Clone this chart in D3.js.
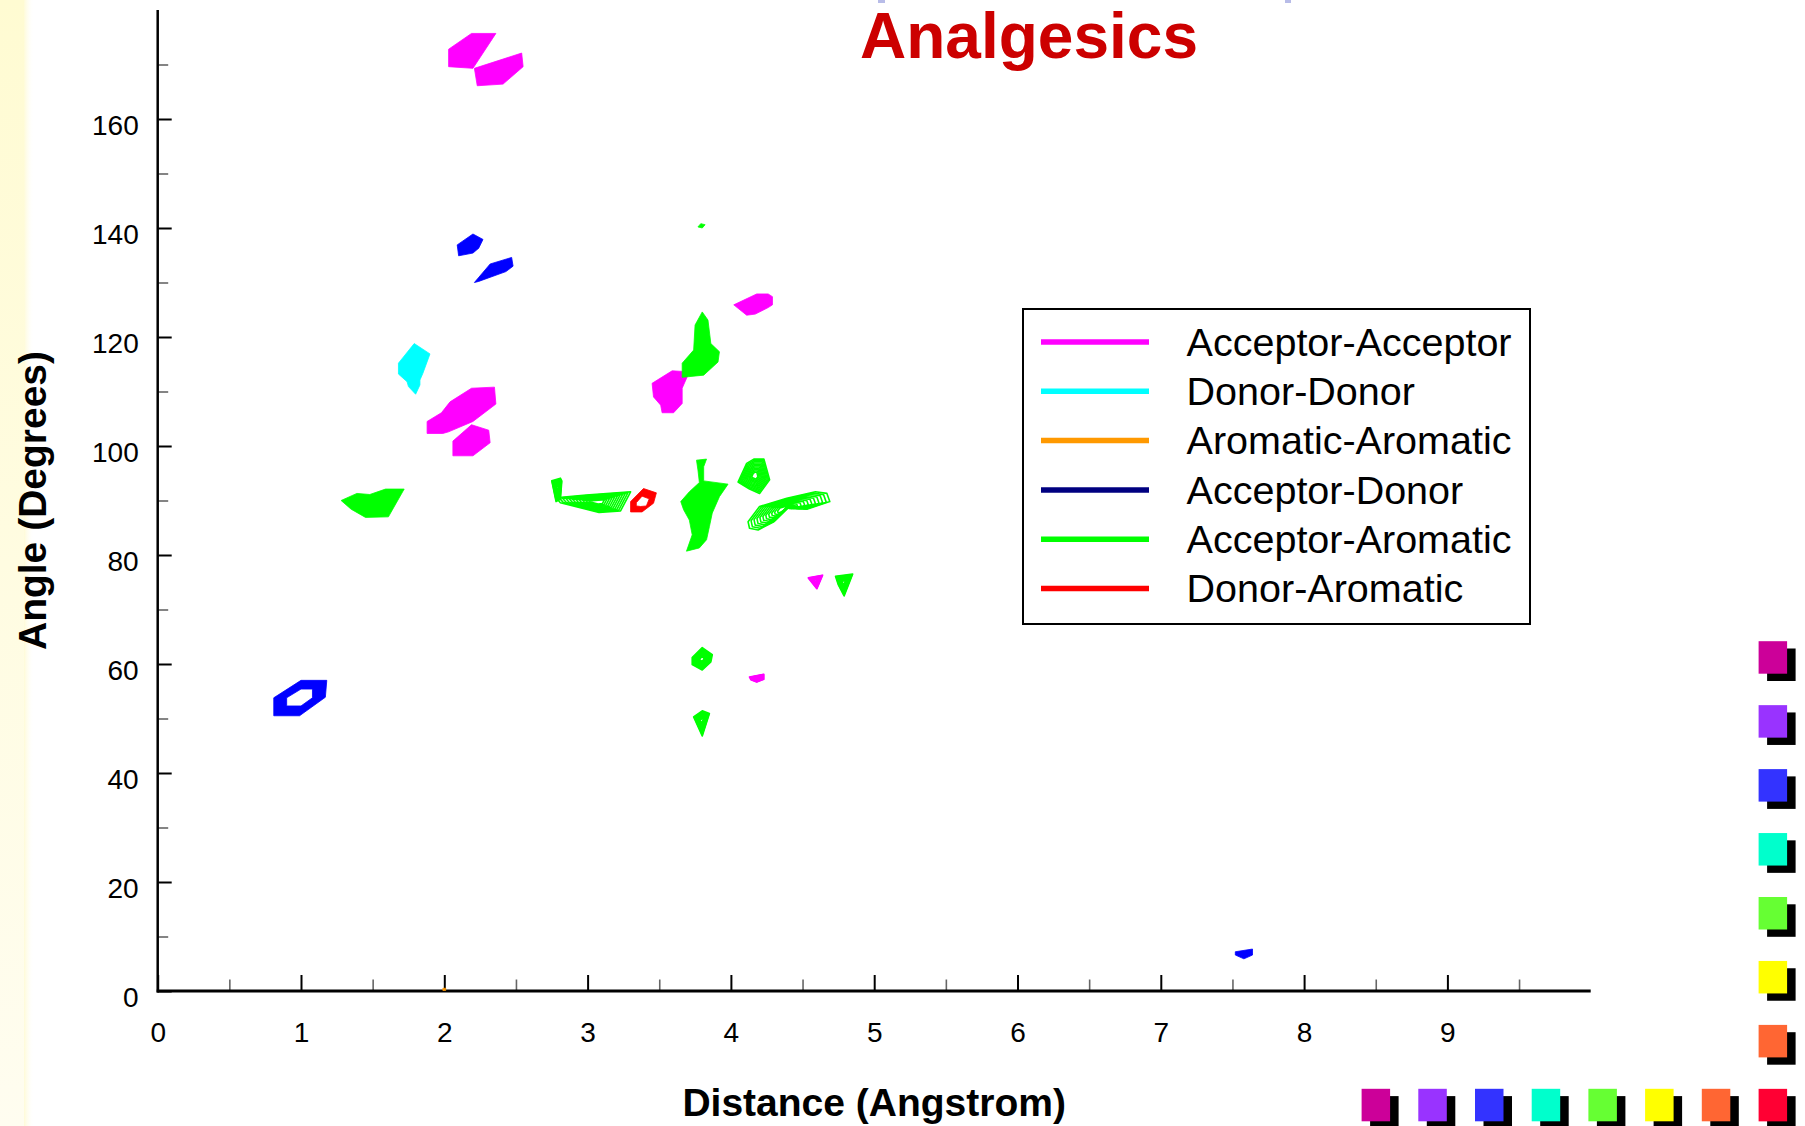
<!DOCTYPE html>
<html>
<head>
<meta charset="utf-8">
<title>Analgesics</title>
<script src="https://cdn.jsdelivr.net/npm/d3@7"></script>
<style>
  body { margin: 0; background: #fff; }
  svg { display: block; font-family: "Liberation Sans", Arial, Helvetica, sans-serif; }
</style>
</head>
<body>
<svg id="chart" width="1805" height="1126"></svg>
<script>
// ---- Series (pharmacophore pair types) ----
const seriesNames = [
  "Acceptor-Acceptor", "Donor-Donor", "Aromatic-Aromatic",
  "Acceptor-Donor", "Acceptor-Aromatic", "Donor-Aromatic"
];
const legendColors = ["#ff00ff", "#00ffff", "#ff9900", "#000080", "#00ff00", "#ff0000"];
const regionColors = ["#ff00ff", "#00ffff", "#ff9900", "#0000ff", "#00ff00", "#ff0000"];

// ---- Axis ticks ----
const distanceTicks = [0, 1, 2, 3, 4, 5, 6, 7, 8, 9];
const distanceMinorTicks = [0.5, 1.5, 2.5, 3.5, 4.5, 5.5, 6.5, 7.5, 8.5, 9.5];
const angleTicks = [0, 20, 40, 60, 80, 100, 120, 140, 160];
const angleMinorTicks = [10, 30, 50, 70, 90, 110, 130, 150, 170];

// ---- Contour regions: each region is a list of rings of [distance (Å), angle (deg)] ----
const acceptorAcceptorRegions = [
  [[[2.03,172.8],[2.19,175.7],[2.36,175.7],[2.20,169.3],[2.03,169.6]]],
  [[[2.21,169.3],[2.54,172.1],[2.55,169.6],[2.41,166.4],[2.23,166.1]]],
  [[[1.88,104.5],[1.98,106.1],[2.04,108.1],[2.19,110.6],[2.35,110.8],[2.36,107.7],[2.20,104.5],[2.03,102.6],[1.99,102.3],[1.88,102.3]]],
  [[[2.06,100.9],[2.19,103.9],[2.31,102.9],[2.32,100.6],[2.20,98.2],[2.06,98.2]]],
  [[[4.02,125.9],[4.18,127.9],[4.26,127.9],[4.29,127.4],[4.29,125.9],[4.26,125.4],[4.17,124.2],[4.11,124.0]]],
  [[[3.45,111.5],[3.59,113.8],[3.71,113.6],[3.66,110.6],[3.66,107.8],[3.60,106.1],[3.52,106.1],[3.51,107.5],[3.46,109.0]]],
  [[[4.54,75.8],[4.64,76.3],[4.60,73.8]]],
  [[[4.13,57.6],[4.23,58.1],[4.23,57.2],[4.18,56.7],[4.14,57.1]]]
];
const donorDonorRegions = [
  [[[1.68,115.2],[1.79,118.8],[1.90,116.9],[1.85,113.3],[1.83,112.1],[1.83,111.2],[1.80,109.5],[1.75,110.9],[1.74,111.8],[1.68,113.2]]]
];
const aromaticAromaticRegions = [
  [[[1.99,0.1],[2.01,0.1],[2.01,0.5],[1.99,0.5]]]
];
const acceptorDonorRegions = [
  [[[2.09,136.9],[2.20,138.9],[2.27,137.9],[2.24,136.3],[2.20,135.4],[2.10,134.9]]],
  [[[2.21,130.0],[2.32,133.4],[2.47,134.6],[2.48,133.0],[2.43,132.0],[2.24,130.2]]],
  [[[0.81,53.8],[1.00,57.0],[1.18,57.0],[1.17,53.9],[0.99,50.5],[0.81,50.5]],
   [[0.90,53.8],[1.00,55.4],[1.08,55.4],[1.08,53.8],[1.00,52.3],[0.90,52.3]]],
  [[[7.52,7.2],[7.64,7.7],[7.64,6.6],[7.58,5.9],[7.52,6.6]]]
];
const acceptorAromaticRegions = [
  [[[1.28,90.0],[1.39,91.3],[1.48,91.1],[1.59,92.1],[1.72,92.1],[1.61,87.0],[1.45,86.9],[1.35,88.4]]],
  [[[2.75,93.6],[2.81,94.1],[2.82,93.6],[2.81,90.2],[2.78,89.8]]],
  [[[2.78,90.5],[2.99,91.0],[3.30,91.6],[3.23,88.1],[3.08,87.8],[2.81,89.6]]],
  [[[3.77,140.2],[3.79,140.8],[3.82,140.6],[3.80,140.0]]],
  [[[3.80,124.6],[3.84,123.1],[3.86,118.8],[3.92,117.3],[3.91,115.4],[3.81,113.0],[3.66,112.6],[3.66,115.2],[3.74,117.6],[3.75,122.2]]],
  [[[3.76,97.4],[3.83,97.6],[3.81,96.2],[3.81,93.6],[3.98,93.0],[3.92,90.7],[3.87,87.7],[3.85,85.2],[3.83,82.8],[3.78,81.3],[3.69,80.7],[3.73,83.7],[3.71,86.4],[3.67,88.3],[3.65,89.8],[3.71,91.6],[3.78,93.3],[3.77,95.6]]],
  [[[4.05,93.4],[4.11,96.8],[4.16,97.6],[4.23,97.6],[4.27,93.8],[4.20,91.3],[4.13,92.1]]],
  [[[4.12,86.1],[4.20,88.9],[4.39,90.4],[4.59,91.6],[4.67,91.3],[4.69,89.8],[4.53,88.4],[4.42,89.2],[4.30,86.1],[4.19,84.6],[4.13,84.9]]],
  [[[4.73,76.1],[4.85,76.5],[4.79,72.5],[4.75,74.5]]],
  [[[3.73,61.2],[3.80,63.0],[3.87,61.7],[3.86,60.4],[3.80,58.9],[3.73,59.9]]],
  [[[3.74,50.3],[3.80,51.4],[3.85,50.9],[3.80,46.8]]]
];
const donorAromaticRegions = [
  [[[3.30,89.8],[3.39,92.2],[3.48,91.4],[3.46,89.5],[3.38,87.9],[3.30,87.9]],
   [[3.34,89.6],[3.38,90.8],[3.43,90.3],[3.41,89.0],[3.37,88.9],[3.34,89.0]]]
];
const regionsBySeries = [
  acceptorAcceptorRegions, donorDonorRegions, aromaticAromaticRegions,
  acceptorDonorRegions, acceptorAromaticRegions, donorAromaticRegions
];
// Regions rendered as stacked contour lines rather than solid fills
const lineContourRegions = {
  "Acceptor-Acceptor": [6, 7],
  "Acceptor-Aromatic": [1, 2, 6, 7, 8, 9, 10]
};

// Slide template swatches
const sideSwatchColors = ["#cc0099", "#9933ff", "#3333ff", "#00ffcc", "#66ff33", "#ffff00", "#ff6633", "#ff0033"];
const bottomSwatchColors = ["#cc0099", "#9933ff", "#3333ff", "#00ffcc", "#66ff33", "#ffff00", "#ff6633"];

// ---- Drawing ----
const svg = d3.select("#chart");
const FONT = '"Liberation Sans", Arial, Helvetica, sans-serif';

// pale yellow strip on the left edge
const defs = svg.append("defs");
const grad = defs.append("linearGradient").attr("id", "strip").attr("x1", 0).attr("y1", 0).attr("x2", 0).attr("y2", 1);
grad.append("stop").attr("offset", "0%").attr("stop-color", "#fffbd2");
grad.append("stop").attr("offset", "100%").attr("stop-color", "#fffdf0");
const gradH = defs.append("linearGradient").attr("id", "stripEdge").attr("x1", 0).attr("y1", 0).attr("x2", 1).attr("y2", 0);
gradH.append("stop").attr("offset", "0%").attr("stop-color", "#fffbd8").attr("stop-opacity", 1);
gradH.append("stop").attr("offset", "100%").attr("stop-color", "#ffffff").attr("stop-opacity", 0);
svg.append("rect").attr("x", 0).attr("y", 0).attr("width", 24).attr("height", 1126).attr("fill", "url(#strip)");
svg.append("rect").attr("x", 24).attr("y", 0).attr("width", 10).attr("height", 1126).attr("fill", "url(#stripEdge)");

const x = d3.scaleLinear().domain([0, 10]).range([157.7, 1590.7]);
const y = d3.scaleLinear().domain([0, 180]).range([991, 10]);

// regions
const line = d3.line().x(d => x(d[0])).y(d => y(d[1])).curve(d3.curveLinearClosed);
const plotG = svg.append("g");
const nestLevels = [1, 0.92, 0.84, 0.76, 0.68, 0.6, 0.52, 0.44, 0.36, 0.28, 0.2];

seriesNames.forEach((name, si) => {
  const color = regionColors[si];
  const lineIdx = lineContourRegions[name] || [];
  regionsBySeries[si].forEach((rings, ri) => {
    if (lineIdx.includes(ri)) {
      const px = rings[0].map(p => [x(p[0]), y(p[1])]);
      const c = d3.polygonCentroid(px);
      nestLevels.forEach(s => {
        const pts = px.map(p => [c[0] + (p[0] - c[0]) * s, c[1] + (p[1] - c[1]) * s]);
        plotG.append("path")
          .attr("d", "M" + pts.map(p => p.join(",")).join("L") + "Z")
          .attr("fill", "none")
          .attr("stroke", color)
          .attr("stroke-width", 1.6)
          .attr("stroke-linejoin", "round");
      });
    } else {
      plotG.append("path")
        .attr("d", rings.map(r => line(r)).join(""))
        .attr("fill", color)
        .attr("fill-rule", "evenodd")
        .attr("stroke", color)
        .attr("stroke-width", 0.8)
        .attr("stroke-linejoin", "round");
    }
  });
});

// axes
const axisG = svg.append("g").attr("class", "axes");

const xMajor = d3.axisBottom(x).tickValues(distanceTicks).tickSize(-16).tickSizeOuter(0).tickPadding(31).tickFormat(d3.format("d"));
const xMinor = d3.axisBottom(x).tickValues(distanceMinorTicks).tickSize(-11.5).tickSizeOuter(0).tickFormat("");
const yMajor = d3.axisLeft(y).tickValues(angleTicks).tickSize(-14).tickSizeOuter(0).tickPadding(19).tickFormat(d3.format("d"));
const yMinor = d3.axisLeft(y).tickValues(angleMinorTicks).tickSize(-10.5).tickSizeOuter(0).tickFormat("");

function styleAxis(g, color, width) {
  g.select(".domain").remove();
  g.selectAll(".tick line").attr("stroke", color).attr("stroke-width", width);
  g.selectAll("text").attr("fill", "#000").style("font-family", FONT).style("font-size", "28px");
}
axisG.append("g").attr("transform", `translate(0,${y(0)})`).call(xMinor).call(g => styleAxis(g, "#666", 1.6));
axisG.append("g").attr("transform", `translate(0,${y(0)})`).call(xMajor).call(g => styleAxis(g, "#000", 2));
axisG.append("g").attr("transform", `translate(${x(0)},0)`).call(yMinor).call(g => styleAxis(g, "#666", 1.6));
axisG.append("g").attr("transform", `translate(${x(0)},0)`).call(yMajor).call(g => {
  styleAxis(g, "#000", 2);
  g.selectAll("text").attr("y", 7);
});

axisG.append("line").attr("x1", x(0)).attr("x2", x(0)).attr("y1", y(180)).attr("y2", y(0) + 1.5)
  .attr("stroke", "#000").attr("stroke-width", 2.5);
axisG.append("line").attr("x1", x(0) - 1).attr("x2", x(10)).attr("y1", y(0)).attr("y2", y(0))
  .attr("stroke", "#000").attr("stroke-width", 3);

// orange aromatic-aromatic trace sits on the axis line
plotG.raise();

// axis titles
svg.append("text")
  .attr("x", (x(0) + x(10)) / 2).attr("y", 1116)
  .attr("text-anchor", "middle")
  .style("font-family", FONT).style("font-size", "39px").style("font-weight", "bold")
  .text("Distance (Angstrom)");
svg.append("text")
  .attr("transform", `translate(46,${(y(0) + y(180)) / 2}) rotate(-90)`)
  .attr("text-anchor", "middle")
  .style("font-family", FONT).style("font-size", "39px").style("font-weight", "bold")
  .text("Angle (Degrees)");

// title
svg.append("text")
  .attr("x", 1029).attr("y", 58)
  .attr("text-anchor", "middle")
  .attr("fill", "#cc0000")
  .style("font-family", FONT).style("font-size", "64px").style("font-weight", "bold")
  .text("Analgesics");

// legend
const legend = svg.append("g").attr("transform", "translate(1023,309)");
legend.append("rect").attr("x", 0).attr("y", 0).attr("width", 507).attr("height", 315)
  .attr("fill", "#fff").attr("stroke", "#000").attr("stroke-width", 2);
seriesNames.forEach((name, i) => {
  const ly = 33 + i * 49.3;
  legend.append("line").attr("x1", 18).attr("x2", 126).attr("y1", ly).attr("y2", ly)
    .attr("stroke", legendColors[i]).attr("stroke-width", 5.5);
  legend.append("text").attr("x", 163.6).attr("y", ly + 13.8)
    .style("font-family", FONT).style("font-size", "39.5px")
    .text(name);
});

// template swatches along the right and bottom edges
const swatchG = svg.append("g");
function swatch(sx, sy, color) {
  swatchG.append("rect").attr("x", sx + 8.5).attr("y", sy + 7.3).attr("width", 28.5).attr("height", 32.5).attr("fill", "#000");
  swatchG.append("rect").attr("x", sx).attr("y", sy).attr("width", 28.5).attr("height", 32.5).attr("fill", color);
}
sideSwatchColors.forEach((c, i) => swatch(1758.6, 641.2 + i * 63.95, c));
bottomSwatchColors.forEach((c, i) => swatch(1361.6 + i * 56.7, 1088.8, c));

// faint marks on the top edge
svg.append("rect").attr("x", 878).attr("y", 0).attr("width", 7).attr("height", 3).attr("fill", "#b8bce8");
svg.append("rect").attr("x", 1285).attr("y", 0).attr("width", 6).attr("height", 3).attr("fill", "#b8bce8");
</script>
</body>
</html>
